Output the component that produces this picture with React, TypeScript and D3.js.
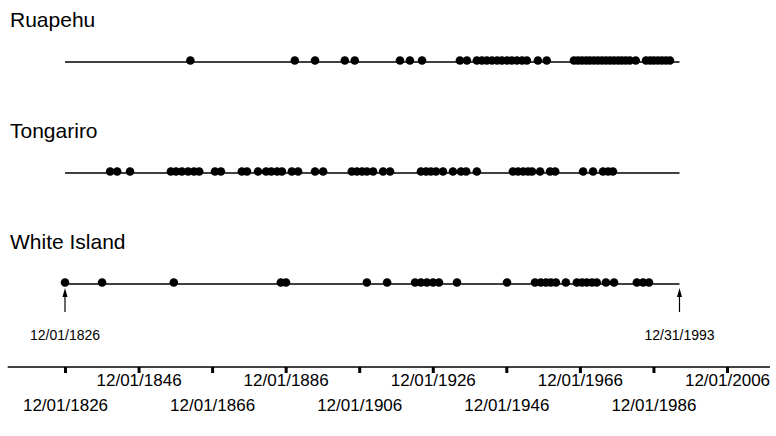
import React, { useEffect, useRef } from 'react'
import * as d3 from 'd3'

// eruption dates as decimal years
const ruapehu = [1861, 1889.4, 1894.9, 1903, 1905.7, 1918, 1920.7, 1924, 1934.3, 1936.2, 1938.9, 1940.3,
  1941.6, 1943, 1944.4, 1945.7, 1947.1, 1948.4, 1949.8, 1951.2, 1952.5, 1955.5, 1957.9, 1965.3, 1966.4,
  1967.5, 1968.6, 1969.6, 1970.7, 1971.8, 1972.9, 1974, 1975.1, 1976.2, 1977.3, 1978.3, 1979.4, 1980.5,
  1982.1, 1984.9, 1986, 1987, 1988.1, 1989.2, 1990.3, 1991.4]
const tongariro = [1839.2, 1841.1, 1844.6, 1855.7, 1857.1, 1858.7, 1860.4, 1862, 1863.4, 1867.7, 1869.3,
  1875, 1876.4, 1879.4, 1881.6, 1883, 1884.6, 1885.9, 1888.6, 1890.3, 1894.9, 1897.1, 1904.9, 1906.3,
  1907.7, 1909, 1910.7, 1913.4, 1915.3, 1923.7, 1925.1, 1926.4, 1927.8, 1929.7, 1932.4, 1934.6, 1936,
  1938.9, 1948.7, 1950.1, 1951.5, 1952.8, 1953.9, 1956.1, 1958.8, 1960.2, 1967.8, 1970.5, 1973.2, 1974.6,
  1975.9]
const whiteIsland = [1826.92, 1837, 1856.5, 1885.6, 1887, 1909, 1914.5, 1922.1, 1923.7, 1925.3, 1927,
  1928.6, 1933.5, 1947.1, 1954.7, 1956.3, 1957.7, 1959, 1960.4, 1963.1, 1966.1, 1967.5, 1968.8, 1970.2,
  1971.5, 1974, 1976.2, 1982.4, 1984.1, 1985.7]

const volcanoNames = ['Ruapehu', 'Tongariro', 'White Island']
const tickYears = [1826, 1846, 1866, 1886, 1906, 1926, 1946, 1966, 1986, 2006]
const tickLabels = ['12/01/1826', '12/01/1846', '12/01/1866', '12/01/1886', '12/01/1906',
  '12/01/1926', '12/01/1946', '12/01/1966', '12/01/1986', '12/01/2006']
const startDate = new Date(1826, 11, 1)
const endDate = new Date(1993, 11, 31)
const startLabel = '12/01/1826'
const endLabel = '12/31/1993'

const toDate = (y: number) => {
  const yr = Math.floor(y)
  const d = new Date(yr, 0, 1)
  return new Date(d.getTime() + (y - yr) * 365.25 * 864e5)
}

const App = () => {
  const ref = useRef<SVGGElement>(null)

  useEffect(() => {
    const g = d3.select(ref.current)
    g.selectAll('*').remove()
    const font = '"Liberation Sans", Arial, sans-serif'

    const x = d3.scaleTime()
      .domain([new Date(1826, 11, 1), new Date(2006, 11, 1)])
      .range([65, 727])

    const series = [ruapehu, tongariro, whiteIsland]
    const rowY = [62, 173, 284]
    const titleY = [27, 138, 249]

    series.forEach((data, i) => {
      const row = g.append('g')
      row.append('text')
        .attr('x', 10).attr('y', titleY[i])
        .attr('font-family', font).attr('font-size', 21)
        .text(volcanoNames[i])
      row.append('line')
        .attr('x1', x(startDate)).attr('x2', x(endDate))
        .attr('y1', rowY[i]).attr('y2', rowY[i])
        .attr('stroke', '#000').attr('stroke-width', 1.5)
      row.selectAll('circle')
        .data(data)
        .enter().append('circle')
          .attr('cx', d => x(toDate(d)))
          .attr('cy', rowY[i] - 1.5)
          .attr('r', 4.3)
          .attr('fill', '#000')
    })

    // arrows marking start / end of record
    const arrows = [{ d: startDate, label: startLabel }, { d: endDate, label: endLabel }]
    arrows.forEach(a => {
      const ax = x(a.d)
      g.append('line')
        .attr('x1', ax).attr('x2', ax).attr('y1', 312).attr('y2', 296)
        .attr('stroke', '#000').attr('stroke-width', 1.2)
      g.append('path')
        .attr('d', `M${ax},288 L${ax - 2.5},297 L${ax + 2.5},297 Z`)
        .attr('fill', '#000')
      g.append('text')
        .attr('x', ax).attr('y', 340)
        .attr('text-anchor', 'middle')
        .attr('font-family', font).attr('font-size', 14)
        .text(a.label)
    })

    // bottom time axis
    const tickDates = tickYears.map(y => new Date(y, 11, 1))
    const axisY = 367
    g.append('line')
      .attr('x1', x(new Date(1811, 4, 1))).attr('x2', x(new Date(2018, 7, 1)))
      .attr('y1', axisY).attr('y2', axisY)
      .attr('stroke', '#000').attr('stroke-width', 1.3)

    const axisG = g.append('g')
      .attr('transform', `translate(0, ${axisY})`)
      .call(d3.axisBottom(x).tickValues(tickDates).tickSize(6).tickFormat((_, i) => tickLabels[i]))
    axisG.select('.domain').remove()
    axisG.selectAll('line').attr('stroke', '#000').attr('stroke-width', 3)
    axisG.selectAll('text')
      .attr('font-family', font)
      .attr('font-size', 17)
      .attr('fill', '#000')
      .attr('dy', 0)
      .attr('y', (_, i) => (i % 2 === 0 ? 44 : 19))
  }, [])

  return (
    <div>
      <svg width={776} height={436} style={{ position: 'absolute', left: 0, top: 0, background: '#fff' }}>
        <g ref={ref} />
      </svg>
    </div>
  )
}

export default App
